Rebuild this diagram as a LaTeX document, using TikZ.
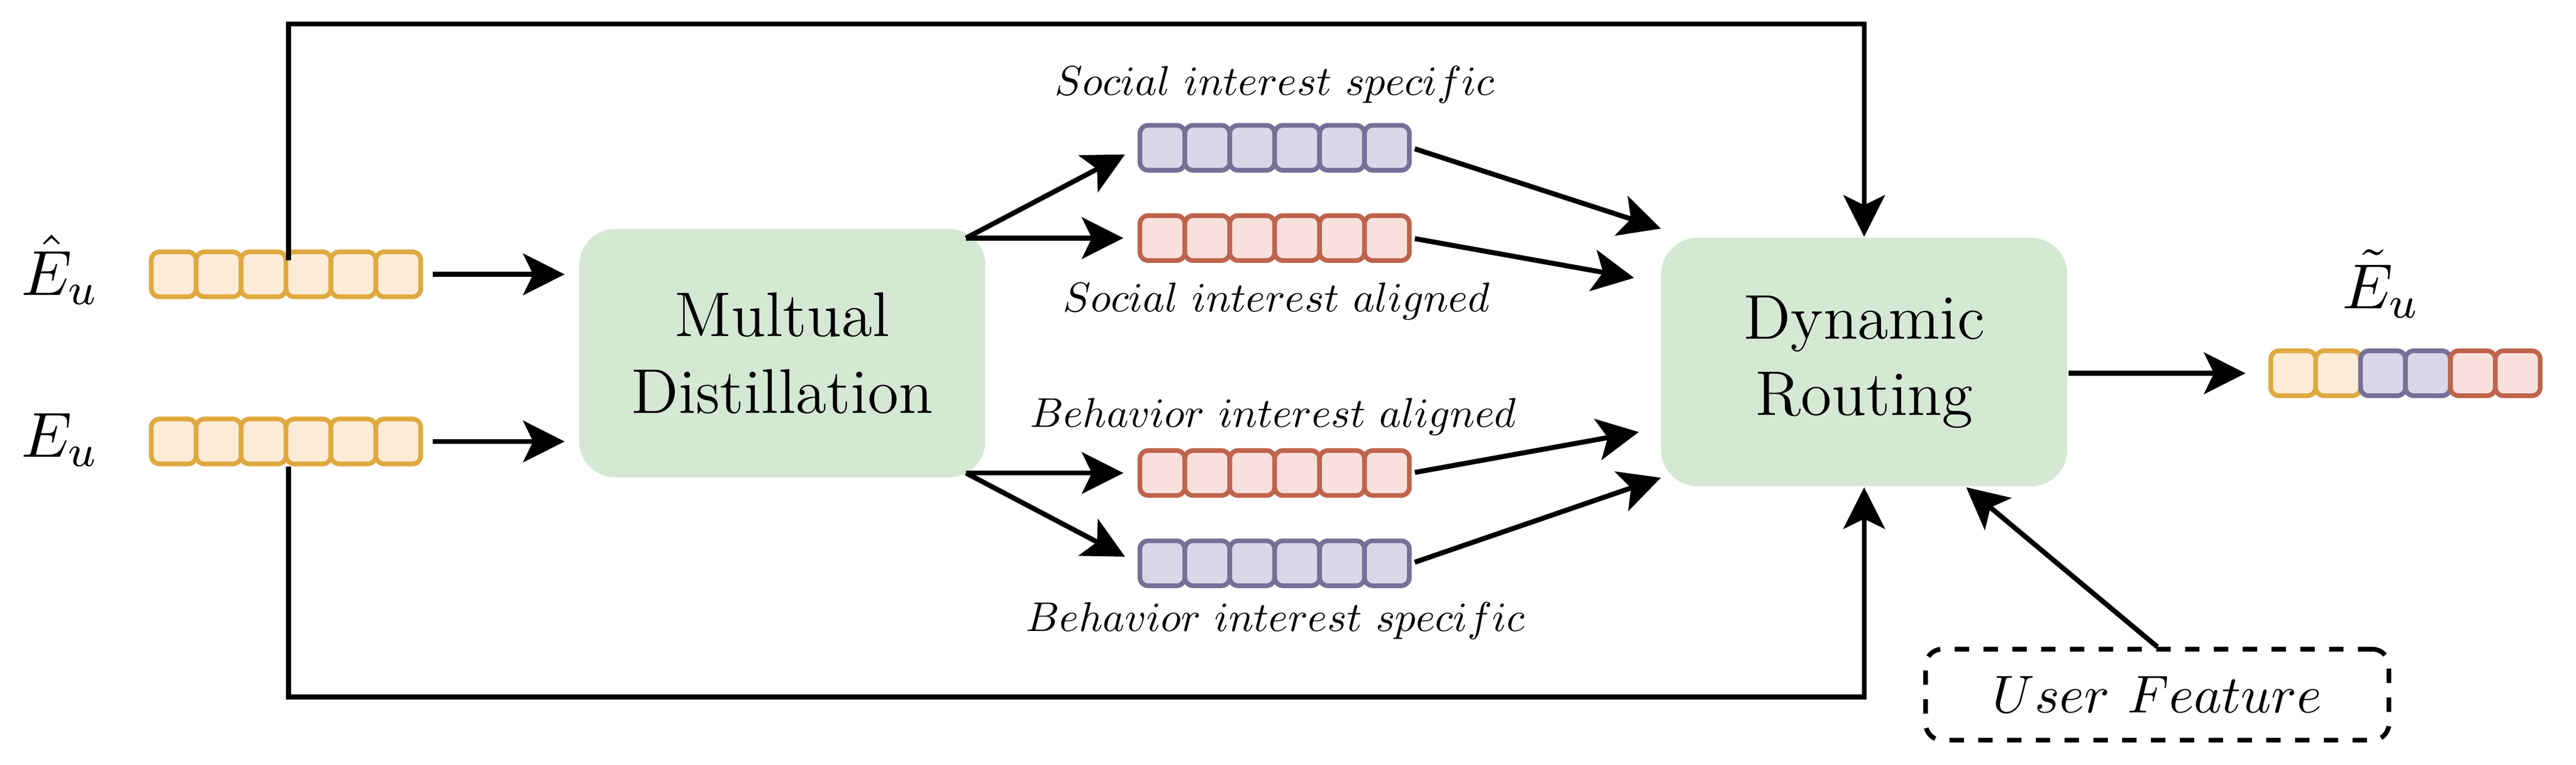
\RequirePackage{fix-cm}
\documentclass[tikz,border=0pt]{standalone}
\usepackage{graphicx}
\usetikzlibrary{arrows.meta}

\definecolor{orgline}{HTML}{DFA940}
\definecolor{orgfill}{HTML}{FCEBD7}
\definecolor{purline}{HTML}{766F96}
\definecolor{purfill}{HTML}{DAD7E8}
\definecolor{roseline}{HTML}{BE644C}
\definecolor{rosefill}{HTML}{F8E0DD}
\definecolor{boxgreen}{HTML}{D5E8D4}

\begin{document}
\begin{tikzpicture}
    [>={Stealth[length=7.5pt,width=7.5pt,inset=1.8pt]},
     arr/.style={->,line width=0.9pt},
     cell/.style={draw,rounded corners=1.5pt,line width=0.85pt,inner sep=0pt,
       minimum width=0.285cm,minimum height=0.285cm},
     org/.style={cell,draw=orgline,fill=orgfill},
     pur/.style={cell,draw=purline,fill=purfill},
     rose/.style={cell,draw=roseline,fill=rosefill},
     block/.style={fill=boxgreen,rounded corners=0.23cm,minimum width=2.5775cm,
       minimum height=1.575cm,align=center,font=\fontsize{11.4}{13.8}\selectfont},
     lbl/.style={anchor=base,inner sep=1pt,font=\fontsize{10}{12}\selectfont},
     sym/.style={inner sep=1pt,font=\fontsize{11.5}{13.8}\selectfont}]
    \useasboundingbox (0,0) rectangle (16.3475,4.85);

    % inputs and output names
    \node[sym] (lhat) at (0.38,3.14) {$\hat{E}_u$};
    \node[sym] (leu) at (0.38,2.06) {$E_u$};
    \node[sym] (ltil) at (15.11,3.05) {$\tilde{E}_u$};

    % embedding vectors
    \foreach \nm/\x/\y/\st in {ehat/1.1025/3.11/org, eu/1.1025/2.05/org,
        sspec/7.3765/3.9125/pur, salig/7.3765/3.34/rose,
        balig/7.3765/1.85/rose, bspec/7.3765/1.2775/pur}
      \foreach \i in {1,...,6}
        \node[\st] (\nm\i) at ({\x+(\i-1)*0.285},\y) {};
    \foreach \i/\st in {1/org,2/org,3/pur,4/pur,5/rose,6/rose}
      \node[\st] (eout\i) at ({14.5525+(\i-1)*0.285},2.4825) {};

    % blocks
    \node[block] (md) at (4.964,2.61) {Multual\\Distillation};
    \node[block] (dr) at (11.83,2.554) {Dynamic\\Routing};
    \node[draw,line width=0.85pt,dash pattern=on 2.6pt off 2.6pt,rounded corners=3pt,
      minimum width=2.94cm,minimum height=0.5775cm,font=\fontsize{10}{12}\selectfont]
      (uf) at (13.69,0.444) {\scalebox{0.96}{$User\ Feature$}};

    % vector labels
    \node[lbl] (tss) at (8.09,4.2475) {\scalebox{0.75}{$Social\ interest\ specific$}};
    \node[lbl] (tsa) at (8.10,2.875) {\scalebox{0.75}{$Social\ interest\ aligned$}};
    \node[lbl] (tba) at (8.08,2.14) {\scalebox{0.75}{$Behavior\ interest\ aligned$}};
    \node[lbl] (tbs) at (8.095,0.845) {\scalebox{0.75}{$Behavior\ interest\ specific$}};

    \coordinate (mdne) at (6.13,3.34);
    \coordinate (mdse) at (6.13,1.85);
    \coordinate (in1) at (10.54,3.40);
    \coordinate (in2) at (10.37,3.0875);
    \coordinate (in3) at (10.40,2.11);
    \coordinate (in4) at (10.54,1.82);

    % connectors
    \foreach \from in {ehat6,eu6}
      \draw[arr,shorten <=0.06cm,shorten >=0.085cm] (\from.east) -- (\from.east -| md.west);
    \foreach \to in {sspec1,salig1}
      \draw[arr,shorten >=0.09cm] (mdne) -- (\to.west);
    \foreach \to in {balig1,bspec1}
      \draw[arr,shorten >=0.09cm] (mdse) -- (\to.west);
    \foreach \from/\to in {sspec6/in1, salig6/in2, balig6/in3, bspec6/in4}
      \draw[arr,shorten <=0.02cm] (\from.east) -- (\to);
    \draw[arr,shorten >=0.145cm] (dr.east |- eout1.west) -- (eout1.west);
    \draw[arr] ([yshift=-0.07cm]ehat3.north east) -- ++(0,1.5) -| (dr.north);
    \draw[arr] (eu3.south east) -- ++(0,-1.4625) -| (dr.south);
    \draw[arr] (uf.north) -- ([xshift=0.6475cm]dr.south);
\end{tikzpicture}
\end{document}
